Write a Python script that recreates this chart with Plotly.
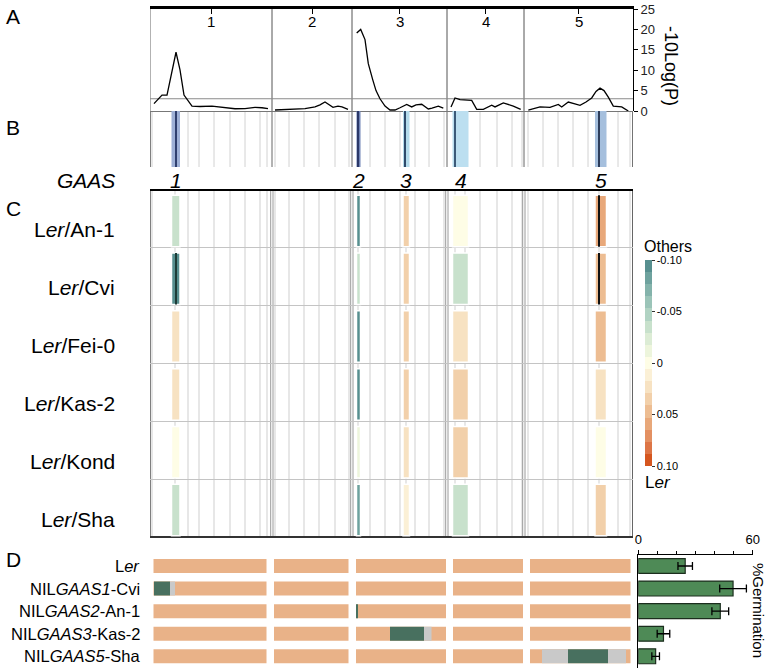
import plotly.graph_objects as go

FONT = "Arial, Liberation Sans, sans-serif"
W, H = 768, 670

# chromosomes (cM)
chrom_names = ["1", "2", "3", "4", "5"]
chrom_len = [122, 80, 95, 77, 109]

# -10Log(P) profiles (position within chromosome, cM)
lod1_pos = [4, 12, 17, 21, 26, 30, 34, 42, 50, 62, 75, 85, 95, 105, 112, 118]
lod1_val = [1.8, 3.9, 3.9, 8.3, 14.4, 10.1, 3.9, 1.2, 1.1, 1.2, 0.9, 0.55, 0.6, 0.9, 0.8, 0.6]
lod2_pos = [3, 13, 23, 33, 43, 48, 53, 58, 61, 66, 70, 76]
lod2_val = [0.25, 0.4, 0.5, 0.6, 1.0, 1.5, 2.2, 1.4, 0.9, 1.2, 1.0, 0.4]
lod3_pos = [4.7, 8.7, 13, 16.3, 20.7, 24, 28, 33, 38, 43, 48, 54.7, 59.7, 64, 69.7, 76.3, 80, 86.3, 91.3]
lod3_val = [19.1, 20.0, 17.5, 11.6, 7.7, 5.0, 3.0, 1.2, 0.24, 0.24, 0.8, 1.6, 1.0, 1.5, 1.65, 0.5, 0.7, 1.2, 0.7]
lod4_pos = [4, 8, 13, 24.7, 29.7, 36.3, 44.7, 48, 56.3, 66.3, 73.7]
lod4_val = [1.0, 3.2, 2.8, 2.6, 0.4, 0.4, 1.4, 1.0, 2.0, 1.2, 0.4]
lod5_pos = [4.3, 10, 16, 26, 34.3, 37.7, 44.3, 50, 56, 62, 67.7, 72, 76, 80, 84.3, 89.3, 97.7, 104.3]
lod5_val = [0.24, 0.6, 1.0, 0.9, 1.6, 1.0, 2.2, 1.8, 1.4, 2.2, 3.2, 4.8, 5.6, 5.0, 3.4, 1.2, 1.0, 0.0]
threshold = 3.0

# marker positions (within chromosome, cM)
markers = [
    [2, 25, 38, 49, 64, 80, 95, 110, 117],
    [3, 17, 32, 47, 63, 77],
    [6, 18, 33, 48, 54, 63, 77, 92],
    [8, 18, 33, 50, 65, 75],
    [4, 19, 34, 49, 64, 75, 94, 106],
]

# GAAS regions (genome-wide cM)
gaas_names = ["1", "2", "3", "4", "5"]
gaas_start = [21.5, 206.5, 253, 302.5, 445]
gaas_end = [30, 210.5, 259.5, 318.5, 456.5]
gaas_peak = [25.7, 208, 255, 305, 449]

# allele effects per population (positive = Ler, negative = others)
accessions = ["An-1", "Cvi", "Fei-0", "Kas-2", "Kond", "Sha"]
eff_gaas1 = [-0.035, -0.095, 0.024, 0.024, 0.0, -0.035]
eff_gaas2 = [-0.09, -0.035, -0.09, -0.095, -0.012, -0.08]
eff_gaas3 = [0.035, 0.035, 0.035, 0.035, 0.02, 0.015]
eff_gaas4 = [0.0, -0.035, 0.024, 0.035, 0.035, -0.035]
eff_gaas5 = [0.06, 0.045, 0.05, 0.024, 0.0, 0.035]
peak_line_gaas = [0, 4, 4]
peak_line_acc = ["Cvi", "An-1", "Cvi"]

# NILs
nil_names = ["Ler", "NILGAAS1-Cvi", "NILGAAS2-An-1", "NILGAAS3-Kas-2", "NILGAAS5-Sha"]
nil_labels = ["L<i>er</i>", "NIL<i>GAAS1</i>-Cvi", "NIL<i>GAAS2</i>-An-1",
              "NIL<i>GAAS3</i>-Kas-2", "NIL<i>GAAS5</i>-Sha"]
nil_chr_start = [3.5, 124, 206, 303, 380]
nil_chr_end = [116.5, 198.5, 296, 373, 480.5]
seg_nil = ["NILGAAS1-Cvi", "NILGAAS1-Cvi", "NILGAAS2-An-1", "NILGAAS3-Kas-2",
           "NILGAAS3-Kas-2", "NILGAAS5-Sha", "NILGAAS5-Sha", "NILGAAS5-Sha"]
seg_start = [4, 20, 206, 240, 274, 392, 418, 458]
seg_end = [20, 25, 207.5, 274, 281.5, 418, 458, 476]
seg_type = ["donor", "unknown", "donor", "donor", "unknown", "unknown", "donor", "unknown"]
germ_mean = [24.6, 49.7, 43.0, 13.2, 9.1]
germ_err = [3.8, 7.0, 4.4, 3.3, 2.0]


def px_x(p):
    return p / W


def px_y(p):
    return 1 - p / H


offsets = [sum(chrom_len[:i]) for i in range(len(chrom_len))]
genome_len = sum(chrom_len)
centers = [o + l / 2 for o, l in zip(offsets, chrom_len)]
acc_keys = ["Ler/" + a for a in accessions]
effects = [eff_gaas1, eff_gaas2, eff_gaas3, eff_gaas4, eff_gaas5]

fig = go.Figure()

# A: association profile
for off, pos, val in zip(offsets, [lod1_pos, lod2_pos, lod3_pos, lod4_pos, lod5_pos],
                         [lod1_val, lod2_val, lod3_val, lod4_val, lod5_val]):
    fig.add_trace(go.Scatter(x=[off + p for p in pos], y=val, mode="lines",
                             line=dict(color="black", width=1.3), xaxis="x", yaxis="y"))

# B: GAAS intervals
band_colors = ["#9eb0d6", "#6f83b5", "#b4dbeb", "#bcdff0", "#a5bfdd"]
band_lines = ["#2f3f6e", "#2b3868", "#2e4a6a", "#3c5a78", "#2c3c5a"]
fig.add_trace(go.Bar(x=[(s + e) / 2 for s, e in zip(gaas_start, gaas_end)],
                     width=[e - s for s, e in zip(gaas_start, gaas_end)],
                     y=[1] * len(gaas_names), marker=dict(color=band_colors, line=dict(width=0)),
                     xaxis="x", yaxis="y2"))
fig.add_trace(go.Bar(x=gaas_peak, width=[1.3] * len(gaas_peak), y=[1] * len(gaas_peak),
                     marker=dict(color=band_lines, line=dict(width=0)), xaxis="x", yaxis="y2"))

# C: allele effects
for g in range(len(gaas_names)):
    fig.add_trace(go.Bar(orientation="h", y=acc_keys,
                         x=[gaas_end[g] - gaas_start[g]] * len(acc_keys),
                         base=[gaas_start[g]] * len(acc_keys), width=0.89, offset=-0.41,
                         marker=dict(color=[-v for v in effects[g]], coloraxis="coloraxis",
                                     line=dict(color="white", width=1.5)),
                         xaxis="x", yaxis="y3"))
fig.add_trace(go.Bar(orientation="h", y=["Ler/" + a for a in peak_line_acc],
                     x=[1.2] * len(peak_line_gaas),
                     base=[gaas_peak[g] - 0.6 for g in peak_line_gaas], width=0.89, offset=-0.41,
                     marker=dict(color=["#1e3c37", "#111111", "#111111"], line=dict(width=0)),
                     xaxis="x", yaxis="y3"))

# D: NIL genotypes
for s, e in zip(nil_chr_start, nil_chr_end):
    fig.add_trace(go.Bar(orientation="h", y=nil_names, x=[e - s] * len(nil_names),
                         base=[s] * len(nil_names), width=0.62,
                         marker=dict(color="#e9b288", line=dict(width=0)),
                         xaxis="x", yaxis="y4"))
seg_colors = {"donor": "#48705f", "unknown": "#c9c9c9"}
fig.add_trace(go.Bar(orientation="h", y=seg_nil, x=[e - s for s, e in zip(seg_start, seg_end)],
                     base=seg_start, width=0.62,
                     marker=dict(color=[seg_colors[t] for t in seg_type], line=dict(width=0)),
                     xaxis="x", yaxis="y4"))
fig.add_trace(go.Bar(orientation="h", y=nil_names, x=germ_mean, width=0.66,
                     error_x=dict(type="data", array=germ_err, color="black", thickness=1.3, width=4),
                     marker=dict(color="#4e8a56", line=dict(color="#1c2e1e", width=1.2)),
                     xaxis="x2", yaxis="y5"))

# grid lines, chromosome borders, frames
shapes = []


def vline(x, yref, color, width=1.0):
    shapes.append(dict(type="line", xref="x", x0=x, x1=x, yref=yref, y0=0, y1=1,
                       line=dict(color=color, width=width), layer="below"))


def hline(yref, y, color, width=1.0):
    shapes.append(dict(type="line", xref="x domain", x0=0, x1=1, yref=yref, y0=y, y1=y,
                       line=dict(color=color, width=width), layer="below"))


for off, mk in zip(offsets, markers):
    for m in mk:
        vline(off + m, "y2 domain", "#d2d2d2")
        vline(off + m, "y3 domain", "#cfcfcf")
for b in offsets[1:]:
    vline(b, "y domain", "#555555")
    vline(b, "y2 domain", "#666666")
    vline(b - 1.3, "y3 domain", "#9a9a9a")
    vline(b + 1.0, "y3 domain", "#9a9a9a")
vline(0, "y domain", "#666666")
vline(0, "y2 domain", "#555555", 1.5)
vline(0, "y3 domain", "#555555", 1.5)
vline(genome_len, "y2 domain", "#444444", 1.5)
vline(genome_len, "y3 domain", "#333333", 1.5)
hline("y3 domain", 1, "black", 2)
hline("y3 domain", 0, "#333333", 2)
shapes.append(dict(type="line", xref="x domain", x0=0, x1=1, yref="y", y0=threshold, y1=threshold,
                   line=dict(color="#8a8a8a", width=1), layer="below"))

# discrete colour scale (bottom = Ler, top = others)
steps = ["#d5561f", "#dd7546", "#e39062", "#e8a87a", "#edbd92", "#f2d0aa", "#f7e2c2", "#fbf0d6",
         "#fefde6", "#edf5dc", "#dcecd5", "#c8e1cc", "#b1d3c3", "#9bc4b8", "#84b3ab", "#6ea29e",
         "#578f8f"]
n = len(steps)
colorscale = []
for k, c in enumerate(steps):
    colorscale.append([k / n, c])
    colorscale.append([(k + 1) / n, c])

ann = []
for letter, yy in zip(["A", "B", "C", "D"], [16, 128, 208, 559]):
    ann.append(dict(text=letter, x=px_x(4), y=px_y(yy), xref="paper", yref="paper",
                    xanchor="left", yanchor="middle", showarrow=False, font=dict(size=21)))
for c, name in zip(centers, chrom_names):
    ann.append(dict(text=name, x=c, y=px_y(21), xref="x", yref="paper", xanchor="center",
                    yanchor="middle", showarrow=False, font=dict(size=15)))
ann.append(dict(text="-10Log(P)", x=px_x(671), y=px_y(66), xref="paper", yref="paper",
                xanchor="center", yanchor="middle", textangle=90, showarrow=False,
                font=dict(size=18)))
ann.append(dict(text="<i>GAAS</i>", x=px_x(117), y=px_y(180), xref="paper", yref="paper",
                xanchor="right", yanchor="middle", showarrow=False, font=dict(size=21)))
for g, name in enumerate(gaas_names):
    ann.append(dict(text="<i>" + name + "</i>", x=(gaas_start[g] + gaas_end[g]) / 2, y=px_y(181),
                    xref="x", yref="paper", xanchor="center", yanchor="middle", showarrow=False,
                    font=dict(size=21)))
for key, a in zip(acc_keys, accessions):
    ann.append(dict(text="L<i>er</i>/" + a, x=px_x(117), y=key, xref="paper", yref="y3",
                    xanchor="right", yanchor="middle", yshift=-11, showarrow=False,
                    font=dict(size=21)))
for key, lab in zip(nil_names, nil_labels):
    ann.append(dict(text=lab, x=px_x(142), y=key, xref="paper", yref="y4",
                    xanchor="right", yanchor="middle", showarrow=False, font=dict(size=16.5)))
ann.append(dict(text="Others", x=px_x(642), y=px_y(247), xref="paper", yref="paper",
                xanchor="left", yanchor="middle", showarrow=False, font=dict(size=16)))
ann.append(dict(text="L<i>er</i>", x=px_x(643), y=px_y(482), xref="paper", yref="paper",
                xanchor="left", yanchor="middle", showarrow=False, font=dict(size=17)))
ann.append(dict(text="%Germination", x=px_x(759), y=px_y(610), xref="paper", yref="paper",
                xanchor="center", yanchor="middle", textangle=90, showarrow=False,
                font=dict(size=15)))

d_dom = [px_y(667.6), px_y(554.7)]

fig.update_layout(
    template="none",
    width=W, height=H, margin=dict(l=0, r=0, t=0, b=0, pad=0),
    paper_bgcolor="white", plot_bgcolor="rgba(0,0,0,0)",
    barmode="overlay", showlegend=False,
    font=dict(family=FONT, color="black"),
    shapes=shapes, annotations=ann,
    xaxis=dict(domain=[px_x(150), px_x(633)], range=[0, genome_len], anchor="y", side="top",
               tickvals=centers, showticklabels=False, ticks="inside", ticklen=5,
               tickcolor="black", showline=True, linecolor="black",
               linewidth=2.5, showgrid=False, zeroline=False, automargin=False),
    yaxis=dict(domain=[px_y(111), px_y(9)], range=[0, 25], anchor="x", side="right",
               tickvals=[0, 5, 10, 15, 20, 25], ticks="outside", ticklen=4, tickcolor="black",
               showline=True, linecolor="black", showgrid=False, zeroline=True,
               zerolinecolor="#777777", zerolinewidth=1, automargin=False,
               tickfont=dict(size=13, color="#222")),
    yaxis2=dict(domain=[px_y(167), px_y(111)], range=[0, 1], anchor="x", visible=False),
    yaxis3=dict(domain=[px_y(537), px_y(190)], anchor="x", type="category",
                categoryarray=acc_keys, categoryorder="array", autorange="reversed",
                showticklabels=False, tickson="boundaries", ticks="", showgrid=True,
                gridcolor="#c4c4c4", gridwidth=1, zeroline=False, automargin=False),
    yaxis4=dict(domain=d_dom, anchor="x", type="category", categoryarray=nil_names,
                categoryorder="array", autorange="reversed", showticklabels=False,
                showgrid=False, zeroline=False, automargin=False),
    xaxis2=dict(domain=[px_x(638.3), px_x(752.7)], range=[0, 60], anchor="y5", side="top",
                showline=True, linecolor="black", linewidth=1.2, tickvals=[0, 60],
                ticks="outside", ticklen=4, tickcolor="black", showgrid=False, zeroline=False,
                minor=dict(ticks="outside", tick0=0, dtick=10, ticklen=3, tickcolor="black"),
                automargin=False, tickfont=dict(size=13, color="black")),
    yaxis5=dict(domain=d_dom, anchor="x2", type="category", categoryarray=nil_names,
                categoryorder="array", autorange="reversed", showticklabels=False,
                showline=True, linecolor="black", linewidth=1.2, showgrid=False, zeroline=False,
                automargin=False),
    coloraxis=dict(colorscale=colorscale, cmin=-0.1, cmax=0.1,
                   colorbar=dict(x=px_x(645), xanchor="left", y=px_y(363), yanchor="middle",
                                 len=206 / H, lenmode="fraction", thickness=7,
                                 thicknessmode="pixels", outlinewidth=0, xpad=0, ypad=0,
                                 tickvals=[0.1, 0.05, 0, -0.05, -0.1],
                                 ticktext=["-0.10", "-0.05", "0", "0.05", "0.10"],
                                 ticks="outside", ticklen=3, tickcolor="#333",
                                 tickfont=dict(size=11, color="black"))),
)

# the page body has a default 8px margin; drop it so the figure fills the window
fig.write_html("out.html", config={"displayModeBar": False},
               post_script="document.body.style.margin='0';")
